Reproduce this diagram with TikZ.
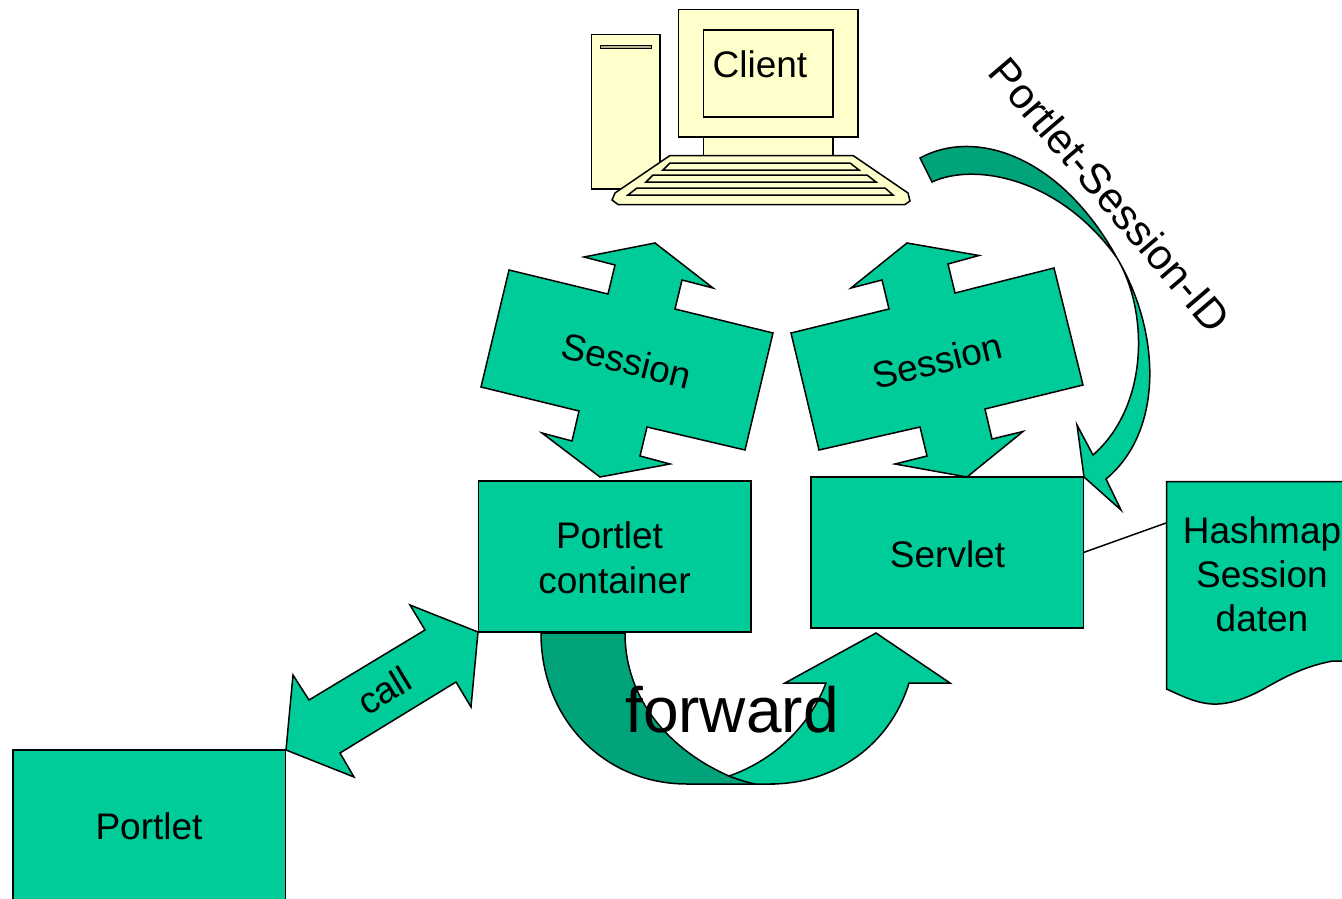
\documentclass[tikz,border=0pt]{standalone}
\usepackage{fontspec}
\setmainfont{Liberation Sans}
\definecolor{grn}{HTML}{00CC99}
\definecolor{dgrn}{HTML}{00A37A}
\definecolor{crm}{HTML}{FFFFCC}
\definecolor{slot}{HTML}{B3B38F}
\tikzset{
  shp/.style={draw=black,line width=1.5pt,line join=miter},
  gshape/.style={shp,fill=grn},
  dshape/.style={shp,fill=dgrn},
  cshape/.style={shp,fill=crm},
  keyrow/.style={draw=black,line width=1.5pt,fill=crm},
  lbl/.style={font=\fontsize{37}{44}\selectfont,inner sep=0pt,align=center,text=black},
  bigbox/.style={gshape,rectangle,outer sep=0pt,inner sep=0pt,minimum width=272.5pt,minimum height=151pt,lbl},
}
\begin{document}
\begin{tikzpicture}[x=1pt,y=-1pt]
\clip (0,0) rectangle (1342,899);
% computer
\draw[cshape] (591.5,34.5) rectangle (660,189);
\draw[shp,fill=slot] (600.5,45.5) rectangle (651.5,48.5);
\draw[cshape] (678.5,9.5) rectangle (858,137);
\draw[cshape] (703.5,137) rectangle (833,156);
\draw[cshape] (670,155.5) -- (853,155.5) -- (908,193) -- (910,201) -- (905,204.5) -- (618,204.5) -- (612,200) -- (615,193) -- cycle;
\draw[keyrow] (670,163) -- (850,163) -- (859,170) -- (663,170) -- cycle;
\draw[keyrow] (653,175) -- (867,175) -- (876,182) -- (646,182) -- cycle;
\draw[keyrow] (637,188) -- (885,188) -- (893,195) -- (628,195) -- cycle;
\node[cshape,rectangle,outer sep=0pt,minimum width=129.5pt,minimum height=87pt] (screen) at (768.25,73.5) {};
\node[lbl] (client) at (760,64) {Client};
% session arrows
\draw[gshape] (584,257) -- (655,243) -- (713,288) -- (682,280) -- (675,309) -- (773,333) -- (745,450) -- (647,427) -- (640,456) -- (670,464) -- (600,477) -- (542,433) -- (572,441) -- (579,411) -- (481,387) -- (509,270) -- (608,294) -- (615,265) -- cycle;
\node[lbl,rotate=-14] (sessl) at (626.5,360.5) {Session};
\draw[gshape] (979,255.5) -- (907,243) -- (851,288) -- (882,280) -- (889,309) -- (791,333) -- (819,450) -- (920,427) -- (927,456) -- (895,464) -- (967,477) -- (1023,431.5) -- (992,439) -- (985,409) -- (1083,385) -- (1054,268) -- (955,293) -- (948,264) -- cycle;
\node[lbl,rotate=14] (sessr) at (937,361) {Session};
% boxes
\node[bigbox] (container) at (614.5,556.5) {};
\node[lbl,font=\fontsize{37}{45}\selectfont] (containertext) at (614.5,557.5) {Portlet\hspace*{10pt}\\container};
\node[bigbox] (servlet) at (947.25,552.5) {};
\node[lbl] (servlettext) at (947.5,554) {Servlet};
\node[bigbox,minimum height=160pt] (portlet) at (149,830) {};
\node[lbl] (portlettext) at (149,826) {Portlet};
% hashmap
\coordinate (hashin) at (1166,523);
\draw[line width=1.5pt] (servlet.east) -- (hashin);
\draw[gshape] (1166.5,481.5) -- (1350,481.5) -- (1350,661) -- (1333,661) .. controls (1305,666) and (1285,677) .. (1267,687) .. controls (1250,697) and (1230,705) .. (1212,704) .. controls (1195,703) and (1180,695) .. (1166.5,689) -- cycle;
\node[lbl] (hash) at (1262,574) {Hashmap\\Session\\daten};
% call arrow
\draw[gshape] (478,632) -- (410,605) -- (425,630) -- (309,700) -- (293,675) -- (286,750) -- (354,777) -- (340,753) -- (456,682) -- (471,707) -- cycle;
\node[lbl,rotate=31] (call) at (384,690.5) {call};
% forward arrow
\draw[dshape] (541,633) .. controls (541,720) and (605,784) .. (687,784) -- (775,784) .. controls (760,784) and (745,782) .. (729,776) .. controls (670,750) and (625,700) .. (625,633) -- cycle;
\draw[gshape] (876,633) -- (950,683) -- (909,683) .. controls (890,745) and (835,784) .. (770,784) -- (755,784) .. controls (745,782) and (737,779) .. (729,776) .. controls (775,760) and (810,725) .. (826,683) -- (785,683) -- cycle;
\node[lbl,font=\fontsize{64}{70}\selectfont] (forward) at (732,710) {forward};
% session id arrow
\draw[dshape] (920,158) .. controls (975,128) and (1060,155) .. (1117,258) .. controls (1060,178) and (975,162) .. (932,182) -- cycle;
\draw[gshape] (1117,258) .. controls (1160,330) and (1165,430) .. (1106,479) -- (1121,510) -- (1084,477) -- (1077,425) -- (1093,455) .. controls (1150,405) and (1148,310) .. (1117,258) -- cycle;
\node[lbl,rotate=-49.5,font=\fontsize{42.5}{46}\selectfont] (sid) at (1110.5,195) {Portlet-Session-ID};
\end{tikzpicture}
\end{document}
